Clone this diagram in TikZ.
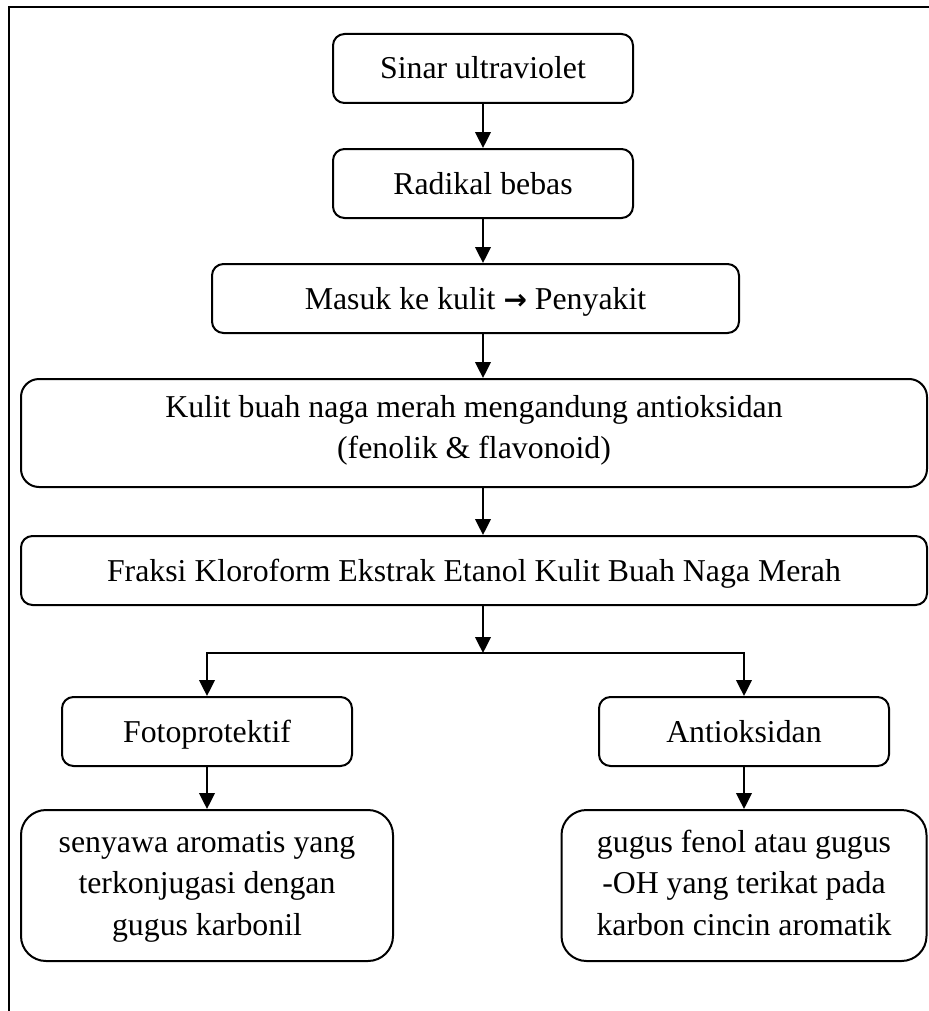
\documentclass[tikz,border=0pt]{standalone}
\usepackage{fontspec}
\setmainfont{Liberation Serif}
\newfontfamily\arrowfont{DejaVu Sans}
\usetikzlibrary{arrows.meta,positioning,calc}

\begin{document}
\begin{tikzpicture}[->,>={Triangle[length=8pt,width=7.8pt]},node distance=22pt,
  line width=1pt,box/.style={rectangle,draw,rounded corners=5.75pt,align=center,
  minimum height=34.5pt,inner sep=0pt,font=\fontsize{15.9}{20.75}\selectfont},
  one line/.style={text height=13pt,text depth=2.5pt}]

 \useasboundingbox (0,0) rectangle (464.5pt,-505.5pt);
 \draw[-] (464.5pt,-3.5pt) -- (4.5pt,-3.5pt) -- (4.5pt,-505.5pt);

 \node[box,one line,minimum width=150pt] (sinar) at (241.5pt,-34.25pt) {Sinar ultraviolet};
 \node[box,one line,minimum width=150pt] (radikal) [below=of sinar] {Radikal bebas};
 \node[box,one line,minimum width=263.5pt] (masuk) [below=of radikal,xshift=-3.75pt]
   {Masuk ke kulit {\arrowfont\bfseries\fontsize{14pt}{14pt}\selectfont →} Penyakit};
 \node[box,minimum width=453pt,minimum height=54pt,rounded corners=9pt] (kulit) [below=of masuk,xshift=-0.75pt]
   {Kulit buah naga merah mengandung antioksidan\\(fenolik \& flavonoid)\strut};
 \node[box,one line,minimum width=453pt] (fraksi) [below=23.5pt of kulit]
   {Fraksi Kloroform Ekstrak Etanol Kulit Buah Naga Merah};
 \node[box,one line,minimum width=145pt] (foto) [below=45pt of fraksi,xshift=-133.5pt] {Fotoprotektif};
 \node[box,one line,minimum width=145pt] (anti) [below=45pt of fraksi,xshift=135pt] {Antioksidan};
 \node[box,minimum width=186pt,minimum height=75.5pt,rounded corners=12.5pt] (senyawa) [below=21pt of foto]
   {\strut senyawa aromatis yang\\terkonjugasi dengan\\gugus karbonil\strut};
 \node[box,minimum width=182.5pt,minimum height=75.5pt,rounded corners=12.5pt] (gugus) [below=21pt of anti]
   {\strut gugus fenol atau gugus\\-OH yang terikat pada\\karbon cincin aromatik\strut};

 \coordinate (split) at ($(fraksi.south -| radikal)+(0,-23.5pt)$);

 \path (sinar) edge (radikal)
    (radikal) edge (masuk.north -| radikal)
    (masuk.south -| radikal) edge (kulit.north -| radikal)
    (kulit.south -| radikal) edge (fraksi.north -| radikal)
    (fraksi.south -| radikal) edge (split)
    (foto) edge (senyawa)
    (anti) edge (gugus);
 \draw[<->] (foto.north) |- (split) -| (anti.north);

\end{tikzpicture}
\end{document}
